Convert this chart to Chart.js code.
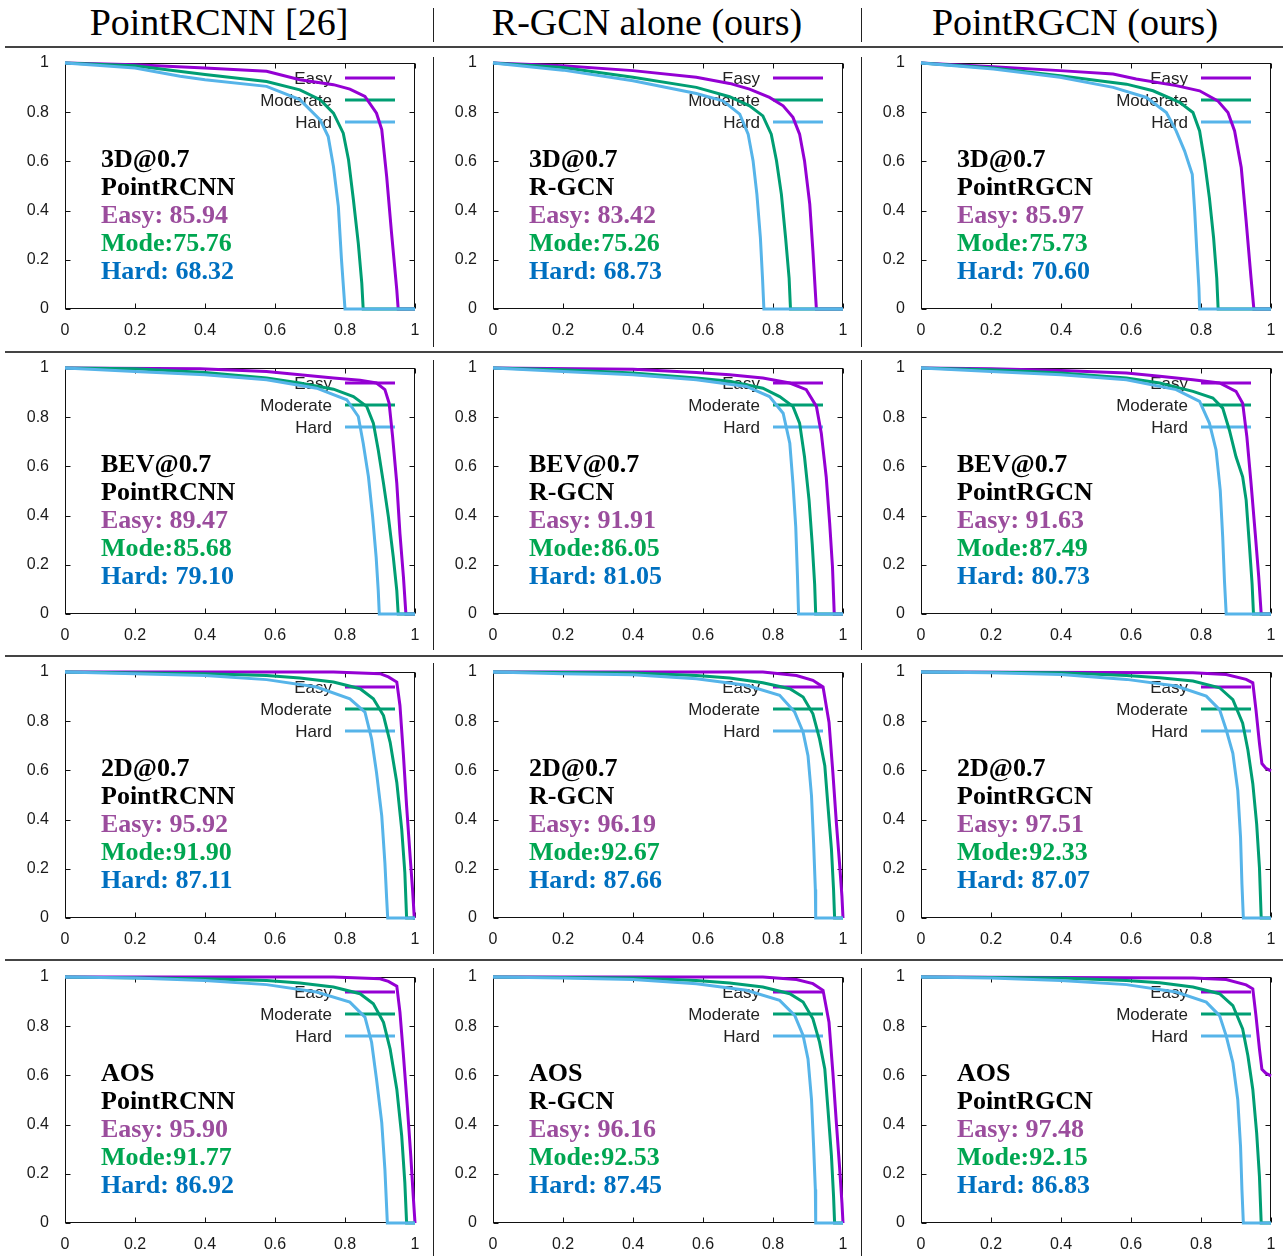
<!DOCTYPE html>
<html>
<head>
<meta charset="utf-8">
<title>Precision-recall curves on KITTI (car)</title>
<script src="https://cdn.jsdelivr.net/npm/chart.js@4.4.1/dist/chart.umd.min.js"></script>
<style>
  html, body { margin: 0; padding: 0; background: #fff; }
  body { width: 1283px; height: 1256px; position: relative; overflow: hidden; }
  .title { position: absolute; top: 0; width: 428px; text-align: center;
           font: 38px 'Liberation Serif', 'Times New Roman', serif; line-height: 44px; color: #000; }
  .hline { position: absolute; left: 5px; width: 1278px; height: 2px; background: #444; }
  .vline { position: absolute; width: 1px; background: #222; }
  canvas { position: absolute; }
</style>
</head>
<body>
<script>
// ---- labels ----
const columnTitles = ['PointRCNN [26]', 'R-GCN alone (ours)', 'PointRGCN (ours)'];
const methods = ['PointRCNN', 'R-GCN', 'PointRGCN'];
const metrics = ['3D@0.7', 'BEV@0.7', '2D@0.7', 'AOS'];
const legendLabels = ['Easy', 'Moderate', 'Hard'];
const tickLabels = ['0', '0.2', '0.4', '0.6', '0.8', '1'];

// ---- AP values per metric row, per method column ----
const apEasy     = [[85.94, 83.42, 85.97], [89.47, 91.91, 91.63], [95.92, 96.19, 97.51], [95.90, 96.16, 97.48]];
const apModerate = [[75.76, 75.26, 75.73], [85.68, 86.05, 87.49], [91.90, 92.67, 92.33], [91.77, 92.53, 92.15]];
const apHard     = [[68.32, 68.73, 70.60], [79.10, 81.05, 80.73], [87.11, 87.66, 87.07], [86.92, 87.45, 86.83]];

// ---- PR curves, [recall, precision] ----
const pr3dRcnnEasy = [[0,1],[0.2,0.993],[0.4,0.98],[0.576,0.966],[0.671,0.932],[0.767,0.912],[0.814,0.894],[0.857,0.864],[0.89,0.796],[0.905,0.729],[0.919,0.539],[0.933,0.308],[0.948,0.077],[0.952,0],[1,0]];
const pr3dRcnnMod  = [[0,1],[0.2,0.989],[0.4,0.953],[0.576,0.925],[0.671,0.891],[0.729,0.851],[0.767,0.796],[0.795,0.715],[0.81,0.607],[0.824,0.444],[0.838,0.267],[0.848,0.104],[0.852,0],[1,0]];
const pr3dRcnnHard = [[0,1],[0.2,0.98],[0.329,0.946],[0.4,0.932],[0.576,0.905],[0.671,0.851],[0.729,0.769],[0.752,0.701],[0.767,0.579],[0.781,0.417],[0.79,0.2],[0.8,0],[1,0]];

const pr3dRgcnEasy = [[0,1],[0.2,0.989],[0.4,0.969],[0.581,0.942],[0.676,0.917],[0.733,0.894],[0.79,0.86],[0.829,0.826],[0.857,0.779],[0.876,0.711],[0.89,0.603],[0.905,0.427],[0.914,0.236],[0.922,0.045],[0.924,0],[1,0]];
const pr3dRgcnMod  = [[0,1],[0.2,0.982],[0.4,0.942],[0.581,0.901],[0.676,0.863],[0.733,0.826],[0.771,0.785],[0.795,0.711],[0.81,0.603],[0.824,0.466],[0.836,0.289],[0.846,0.126],[0.85,0],[1,0]];
const pr3dRgcnHard = [[0,1],[0.2,0.971],[0.4,0.928],[0.581,0.876],[0.657,0.846],[0.705,0.792],[0.729,0.711],[0.743,0.603],[0.754,0.466],[0.764,0.289],[0.77,0.126],[0.774,0],[1,0]];

const pr3dPrgcnEasy = [[0,1],[0.207,0.985],[0.397,0.969],[0.549,0.955],[0.615,0.935],[0.729,0.908],[0.796,0.887],[0.848,0.846],[0.877,0.799],[0.896,0.724],[0.915,0.575],[0.929,0.357],[0.943,0.126],[0.951,0],[1,0]];
const pr3dPrgcnMod  = [[0,1],[0.207,0.98],[0.397,0.948],[0.587,0.914],[0.663,0.887],[0.739,0.84],[0.777,0.799],[0.796,0.724],[0.81,0.602],[0.824,0.452],[0.836,0.289],[0.845,0.126],[0.849,0],[1,0]];
const pr3dPrgcnHard = [[0,1],[0.207,0.976],[0.397,0.942],[0.549,0.901],[0.644,0.86],[0.701,0.799],[0.729,0.724],[0.753,0.643],[0.775,0.548],[0.782,0.398],[0.788,0.235],[0.794,0.086],[0.796,0],[1,0]];

const prBevRcnnEasy = [[0,1],[0.386,0.997],[0.576,0.986],[0.671,0.973],[0.767,0.959],[0.843,0.95],[0.89,0.939],[0.914,0.912],[0.926,0.857],[0.936,0.721],[0.948,0.531],[0.957,0.327],[0.967,0.15],[0.974,0],[1,0]];
const prBevRcnnMod  = [[0,1],[0.2,0.997],[0.4,0.982],[0.576,0.959],[0.671,0.939],[0.767,0.914],[0.824,0.884],[0.862,0.844],[0.881,0.776],[0.895,0.667],[0.91,0.531],[0.924,0.395],[0.938,0.231],[0.948,0.095],[0.952,0],[1,0]];
const prBevRcnnHard = [[0,1],[0.2,0.986],[0.4,0.973],[0.576,0.952],[0.719,0.918],[0.805,0.871],[0.838,0.803],[0.852,0.694],[0.867,0.558],[0.879,0.395],[0.889,0.231],[0.895,0.095],[0.898,0],[1,0]];

const prBevRgcnEasy = [[0,1],[0.4,0.995],[0.581,0.982],[0.676,0.973],[0.771,0.959],[0.848,0.939],[0.895,0.912],[0.924,0.844],[0.938,0.735],[0.952,0.558],[0.962,0.367],[0.97,0.19],[0.975,0],[1,0]];
const prBevRgcnMod  = [[0,1],[0.2,0.993],[0.4,0.98],[0.581,0.959],[0.676,0.946],[0.771,0.918],[0.819,0.884],[0.857,0.844],[0.876,0.776],[0.89,0.639],[0.903,0.463],[0.912,0.286],[0.919,0.122],[0.922,0],[1,0]];
const prBevRgcnHard = [[0,1],[0.2,0.986],[0.4,0.973],[0.581,0.952],[0.724,0.925],[0.79,0.884],[0.829,0.816],[0.848,0.694],[0.857,0.531],[0.865,0.354],[0.87,0.15],[0.873,0],[1,0]];

const prBevPrgcnEasy = [[0,1],[0.2,0.997],[0.4,0.99],[0.587,0.98],[0.682,0.966],[0.777,0.952],[0.853,0.939],[0.9,0.905],[0.919,0.857],[0.931,0.721],[0.943,0.531],[0.955,0.327],[0.965,0.15],[0.972,0],[1,0]];
const prBevPrgcnMod  = [[0,1],[0.2,0.993],[0.4,0.98],[0.587,0.959],[0.682,0.939],[0.777,0.905],[0.834,0.878],[0.862,0.837],[0.881,0.748],[0.9,0.639],[0.919,0.558],[0.929,0.463],[0.938,0.286],[0.946,0.122],[0.95,0],[1,0]];
const prBevPrgcnHard = [[0,1],[0.2,0.986],[0.4,0.973],[0.587,0.952],[0.729,0.912],[0.796,0.864],[0.824,0.776],[0.843,0.667],[0.855,0.503],[0.862,0.313],[0.867,0.136],[0.872,0],[1,0]];

const pr2dRcnnEasy = [[0,1],[0.767,1],[0.9,0.993],[0.924,0.98],[0.948,0.959],[0.957,0.864],[0.967,0.66],[0.976,0.456],[0.986,0.252],[0.993,0.116],[0.998,0],[1,0]];
const pr2dRcnnMod  = [[0,1],[0.4,0.993],[0.576,0.986],[0.671,0.976],[0.767,0.959],[0.843,0.932],[0.881,0.891],[0.91,0.823],[0.929,0.714],[0.948,0.551],[0.962,0.361],[0.971,0.184],[0.976,0],[1,0]];
const pr2dRcnnHard = [[0,1],[0.2,0.993],[0.4,0.986],[0.576,0.969],[0.719,0.939],[0.814,0.891],[0.857,0.837],[0.876,0.728],[0.89,0.592],[0.905,0.415],[0.914,0.224],[0.919,0.08],[0.922,0],[1,0]];

const pr2dRgcnEasy = [[0,1],[0.771,1],[0.867,0.986],[0.914,0.966],[0.943,0.939],[0.96,0.796],[0.971,0.592],[0.981,0.388],[0.99,0.224],[0.997,0.088],[1,0]];
const pr2dRgcnMod  = [[0,1],[0.4,0.996],[0.581,0.986],[0.676,0.976],[0.771,0.956],[0.848,0.932],[0.886,0.898],[0.914,0.83],[0.933,0.728],[0.948,0.619],[0.957,0.456],[0.967,0.279],[0.973,0.116],[0.976,0],[1,0]];
const pr2dRgcnHard = [[0,1],[0.2,0.993],[0.4,0.989],[0.581,0.973],[0.724,0.946],[0.819,0.905],[0.862,0.837],[0.886,0.755],[0.9,0.66],[0.91,0.497],[0.916,0.306],[0.921,0.116],[0.922,0],[1,0]];

const pr2dPrgcnEasy = [[0,1],[0.777,0.997],[0.872,0.99],[0.929,0.97],[0.948,0.956],[0.957,0.847],[0.967,0.71],[0.974,0.628],[0.986,0.608],[1,0.598]];
const pr2dPrgcnMod  = [[0,1],[0.4,0.997],[0.587,0.986],[0.682,0.977],[0.777,0.963],[0.853,0.936],[0.891,0.888],[0.919,0.792],[0.934,0.683],[0.948,0.546],[0.959,0.383],[0.967,0.205],[0.972,0],[1,0]];
const pr2dPrgcnHard = [[0,1],[0.2,0.997],[0.4,0.99],[0.587,0.97],[0.729,0.943],[0.815,0.902],[0.853,0.847],[0.872,0.765],[0.891,0.669],[0.905,0.519],[0.913,0.328],[0.917,0.137],[0.921,0],[1,0]];

const prAosRcnnEasy = [[0,1],[0.767,1],[0.9,0.993],[0.924,0.982],[0.948,0.963],[0.957,0.857],[0.967,0.68],[0.978,0.476],[0.988,0.272],[0.995,0.109],[1,0]];
const prAosRcnnMod  = [[0,1],[0.4,0.993],[0.576,0.986],[0.671,0.976],[0.767,0.959],[0.843,0.932],[0.881,0.891],[0.91,0.816],[0.929,0.707],[0.948,0.544],[0.962,0.354],[0.971,0.163],[0.976,0],[1,0]];
const prAosRcnnHard = [[0,1],[0.2,0.996],[0.4,0.986],[0.576,0.969],[0.719,0.939],[0.814,0.898],[0.857,0.837],[0.876,0.735],[0.89,0.585],[0.905,0.408],[0.914,0.218],[0.921,0],[1,0]];

const prAosRgcnEasy = [[0,1],[0.771,1],[0.867,0.99],[0.914,0.973],[0.943,0.946],[0.96,0.816],[0.971,0.612],[0.981,0.408],[0.99,0.231],[0.997,0.082],[1,0]];
const prAosRgcnMod  = [[0,1],[0.4,0.996],[0.581,0.986],[0.676,0.976],[0.771,0.959],[0.848,0.932],[0.886,0.898],[0.914,0.83],[0.933,0.735],[0.948,0.626],[0.957,0.463],[0.967,0.272],[0.973,0.109],[0.976,0],[1,0]];
const prAosRgcnHard = [[0,1],[0.2,0.996],[0.4,0.99],[0.581,0.973],[0.724,0.946],[0.819,0.905],[0.862,0.844],[0.886,0.762],[0.9,0.667],[0.91,0.503],[0.916,0.313],[0.921,0.136],[0.922,0],[1,0]];

const prAosPrgcnEasy = [[0,1],[0.777,0.996],[0.872,0.99],[0.929,0.968],[0.948,0.952],[0.957,0.843],[0.967,0.707],[0.974,0.625],[0.986,0.608],[1,0.598]];
const prAosPrgcnMod  = [[0,1],[0.4,0.996],[0.587,0.986],[0.682,0.977],[0.777,0.959],[0.853,0.932],[0.891,0.884],[0.919,0.789],[0.934,0.68],[0.948,0.543],[0.959,0.366],[0.967,0.188],[0.972,0],[1,0]];
const prAosPrgcnHard = [[0,1],[0.2,0.996],[0.4,0.986],[0.587,0.969],[0.729,0.939],[0.815,0.898],[0.853,0.843],[0.872,0.761],[0.891,0.652],[0.905,0.502],[0.913,0.311],[0.917,0.134],[0.921,0],[1,0]];

// rows = metrics, columns = methods, each [easy, moderate, hard]
const curves = [
  [[pr3dRcnnEasy, pr3dRcnnMod, pr3dRcnnHard], [pr3dRgcnEasy, pr3dRgcnMod, pr3dRgcnHard], [pr3dPrgcnEasy, pr3dPrgcnMod, pr3dPrgcnHard]],
  [[prBevRcnnEasy, prBevRcnnMod, prBevRcnnHard], [prBevRgcnEasy, prBevRgcnMod, prBevRgcnHard], [prBevPrgcnEasy, prBevPrgcnMod, prBevPrgcnHard]],
  [[pr2dRcnnEasy, pr2dRcnnMod, pr2dRcnnHard], [pr2dRgcnEasy, pr2dRgcnMod, pr2dRgcnHard], [pr2dPrgcnEasy, pr2dPrgcnMod, pr2dPrgcnHard]],
  [[prAosRcnnEasy, prAosRcnnMod, prAosRcnnHard], [prAosRgcnEasy, prAosRgcnMod, prAosRgcnHard], [prAosPrgcnEasy, prAosPrgcnMod, prAosPrgcnHard]]
];

// ---- styling ----
const lineColors = ['#9400d3', '#009e73', '#56b4e9'];   // gnuplot default palette
const textColors = ['#9b4d9d', '#00a651', '#0070c0'];
const colLeft = [5, 433, 861];
const rowTop = [50, 355, 659, 964];
const rowRule = [46, 351, 655, 959];
const sepSpan = [[57, 347], [360, 650], [663, 954], [968, 1256]];
const TICK = 5;

Chart.defaults.font.family = "'Liberation Sans', Arial, Helvetica, sans-serif";
Chart.defaults.font.size = 16;
Chart.defaults.color = '#1a1a1a';

// page furniture: titles and rules
columnTitles.forEach((t, c) => {
    const d = document.createElement('div');
    d.className = 'title';
    d.style.left = colLeft[c] + 'px';
    d.textContent = t;
    document.body.appendChild(d);
});
rowRule.forEach(y => {
    const d = document.createElement('div');
    d.className = 'hline';
    d.style.top = y + 'px';
    document.body.appendChild(d);
});
[[8, 42]].concat(sepSpan).forEach(([y0, y1]) => {
    [433, 861].forEach(x => {
        const d = document.createElement('div');
        d.className = 'vline';
        d.style.left = x + 'px';
        d.style.top = y0 + 'px';
        d.style.height = (y1 - y0) + 'px';
        document.body.appendChild(d);
    });
});

// keep the plot box at a fixed spot: fixed axis sizes, no label padding
function pinAxis(size) {
    return s => {
        if (s.isHorizontal()) s.height = size; else s.width = size;
        s.paddingTop = s.paddingBottom = s.paddingLeft = s.paddingRight = 0;
    };
}

// gnuplot-like frame, inward ticks, key and label block
const gnuplotLook = {
    id: 'gnuplotLook',
    beforeDatasetsDraw(chart) {
        const { ctx, chartArea: a, scales: { x, y } } = chart;
        ctx.save();
        ctx.strokeStyle = '#111';
        ctx.lineWidth = 1;
        const L = Math.round(a.left) + 0.5, R = Math.round(a.right) - 0.5;
        const T = Math.round(a.top) + 0.5, B = Math.round(a.bottom) - 0.5;
        ctx.strokeRect(L, T, R - L, B - T);
        ctx.beginPath();
        x.ticks.forEach(t => {
            const px = Math.round(x.getPixelForValue(t.value)) + 0.5;
            ctx.moveTo(px, B); ctx.lineTo(px, B - TICK);
            ctx.moveTo(px, T); ctx.lineTo(px, T + TICK);
        });
        y.ticks.forEach(t => {
            const py = Math.round(y.getPixelForValue(t.value)) + 0.5;
            ctx.moveTo(L, py); ctx.lineTo(L + TICK, py);
            ctx.moveTo(R, py); ctx.lineTo(R - TICK, py);
        });
        ctx.stroke();

        // key
        ctx.font = "17px 'Liberation Sans', Arial, sans-serif";
        ctx.textAlign = 'right';
        ctx.textBaseline = 'middle';
        legendLabels.forEach((lab, i) => {
            const ly = a.top + 15 + i * 22;
            ctx.fillStyle = '#222';
            ctx.fillText(lab, a.left + 267, ly + 1);
            ctx.strokeStyle = lineColors[i];
            ctx.lineWidth = 3;
            ctx.beginPath();
            ctx.moveTo(a.left + 280, ly);
            ctx.lineTo(a.left + 330, ly);
            ctx.stroke();
        });
        ctx.restore();
    },
    afterDatasetsDraw(chart, args, opts) {
        const { ctx, chartArea: a } = chart;
        const lines = [
            [opts.metric, '#000'],
            [opts.method, '#000'],
            ['Easy: ' + opts.easy.toFixed(2), textColors[0]],
            ['Mode:' + opts.mod.toFixed(2), textColors[1]],
            ['Hard: ' + opts.hard.toFixed(2), textColors[2]]
        ];
        ctx.save();
        ctx.font = "bold 26px 'Liberation Serif', 'Times New Roman', serif";
        ctx.textAlign = 'left';
        ctx.textBaseline = 'alphabetic';
        lines.forEach(([txt, col], i) => {
            ctx.fillStyle = col;
            ctx.fillText(txt, a.left + 36, a.top + 103.5 + i * 28);
        });
        ctx.restore();
    }
};

metrics.forEach((metric, r) => {
    methods.forEach((method, c) => {
        const canvas = document.createElement('canvas');
        canvas.width = 422;
        canvas.height = 300;
        canvas.style.left = colLeft[c] + 'px';
        canvas.style.top = rowTop[r] + 'px';
        document.body.appendChild(canvas);

        const datasets = curves[r][c].map((pts, i) => ({
            label: legendLabels[i],
            data: pts.map(p => ({ x: p[0], y: p[1] })),
            borderColor: lineColors[i],
            borderWidth: 3,
            pointRadius: 0,
            tension: 0,
            fill: false,
            clip: 6,
            order: 3 - i   // hard drawn last, as gnuplot does
        }));

        new Chart(canvas.getContext('2d'), {
            type: 'line',
            data: { datasets },
            plugins: [gnuplotLook],
            options: {
                responsive: false,
                animation: false,
                events: [],
                layout: { autoPadding: false, padding: { top: 13, right: 12, bottom: 6, left: 0 } },
                plugins: {
                    legend: { display: false },
                    tooltip: { enabled: false },
                    gnuplotLook: {
                        metric, method,
                        easy: apEasy[r][c], mod: apModerate[r][c], hard: apHard[r][c]
                    }
                },
                scales: {
                    x: {
                        type: 'linear', min: 0, max: 1,
                        grid: { display: false, drawTicks: false },
                        border: { display: false },
                        ticks: { stepSize: 0.2, padding: 12, maxRotation: 0, autoSkip: false,
                                 callback: (v, i) => tickLabels[i] },
                        afterFit: pinAxis(35)
                    },
                    y: {
                        type: 'linear', min: 0, max: 1,
                        grid: { display: false, drawTicks: false },
                        border: { display: false },
                        ticks: { stepSize: 0.2, padding: 16, autoSkip: false,
                                 callback: (v, i) => tickLabels[i] },
                        afterFit: pinAxis(60)
                    }
                }
            }
        });
    });
});
</script>
</body>
</html>
